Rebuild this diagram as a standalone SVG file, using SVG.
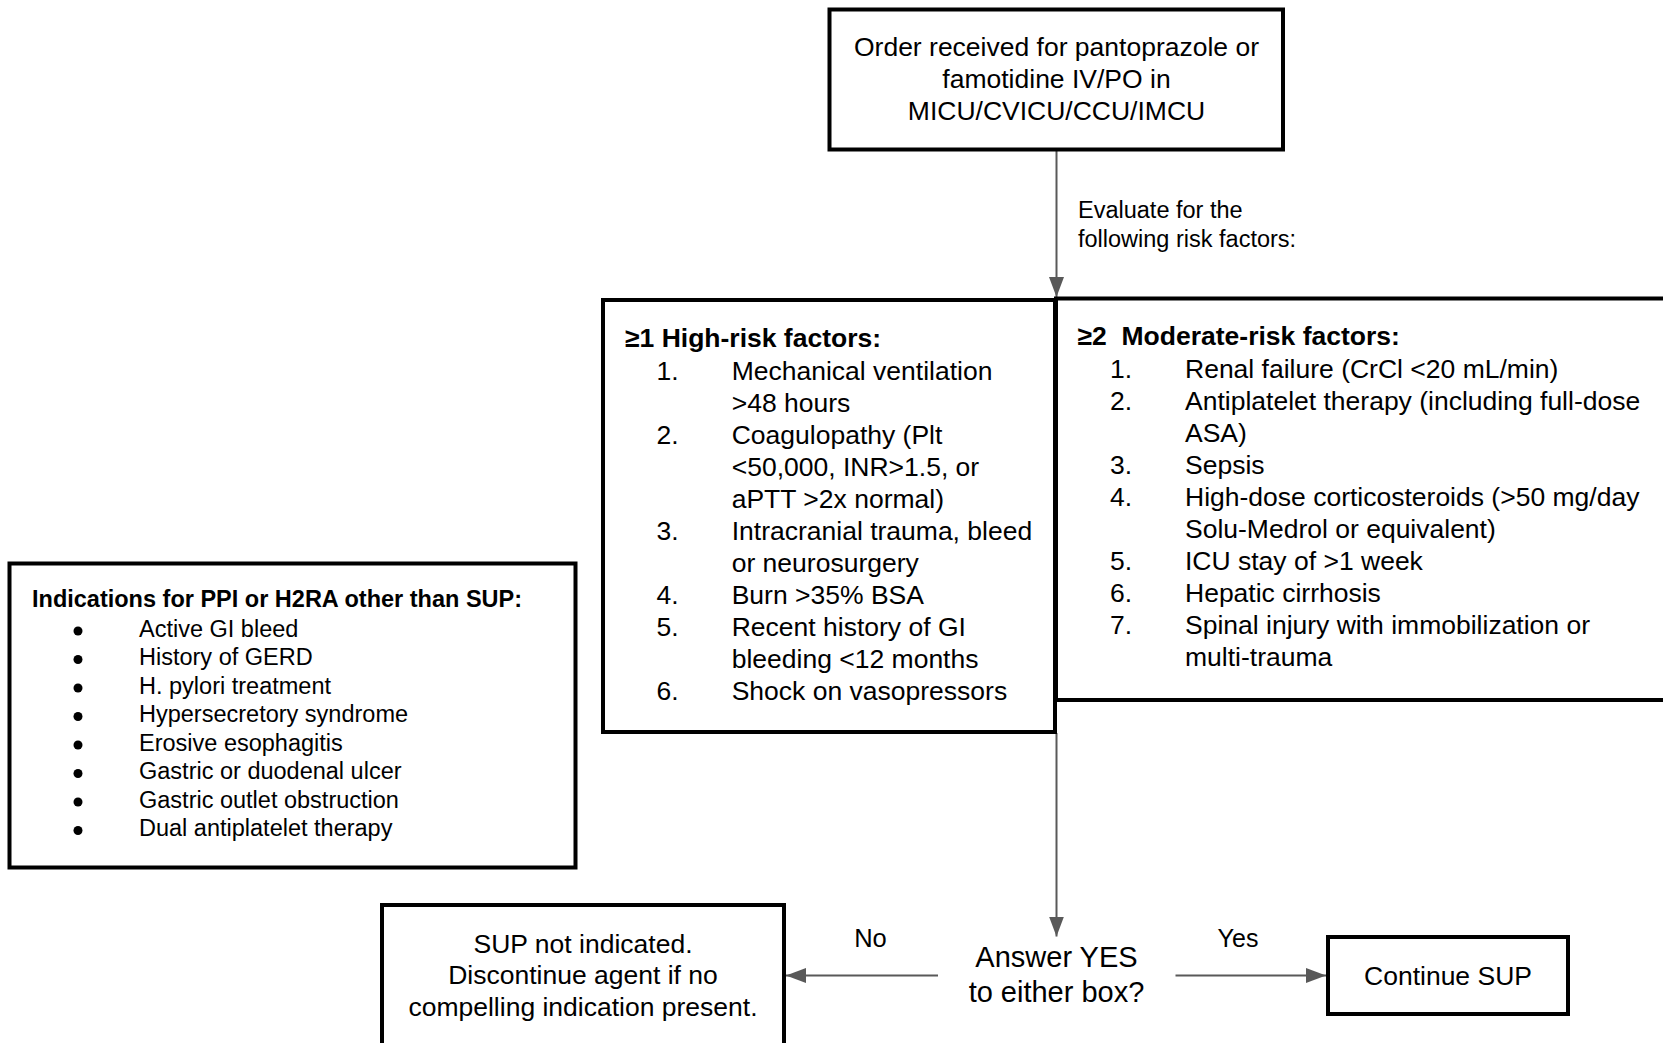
<svg xmlns="http://www.w3.org/2000/svg" width="1663" height="1043" viewBox="0 0 1663 1043">
<style>
.box{fill:#fff;stroke:#000;stroke-width:4}
.t{font-family:"Liberation Sans",Arial,sans-serif;fill:#000}
.m{font-size:26.5px}
.s{font-size:23.5px}
.b{font-weight:bold}
.c{text-anchor:middle}
.con{fill:none;stroke:#595959;stroke-width:2}
</style>
<defs>
<marker id="ah" markerUnits="userSpaceOnUse" markerWidth="20" markerHeight="15" refX="20" refY="7.5" orient="auto">
<path d="M0,0 L20,7.5 L0,15 z" fill="#595959"/>
</marker>
</defs>
<rect width="1663" height="1043" fill="#fff"/>

<g id="connectors">
<path class="con" d="M1056.5,150 V297" marker-end="url(#ah)"/>
<path class="con" d="M1056.5,733 V936.5" marker-end="url(#ah)"/>
<path class="con" d="M938,975.5 H786" marker-end="url(#ah)"/>
<path class="con" d="M1175.5,975.5 H1326" marker-end="url(#ah)"/>
<text class="t" x="1078" y="218" font-size="23.5">Evaluate for the</text>
<text class="t" x="1078" y="246.5" font-size="23.5">following risk factors:</text>
<text class="t c" x="870.5" y="946.5" font-size="25.5">No</text>
<text class="t c" x="1238" y="946.5" font-size="25">Yes</text>
</g>

<g id="order">
<rect class="box" x="829.5" y="9.5" width="453.5" height="140"/>
<text class="t m c" x="1056.5" y="56">Order received for pantoprazole or</text>
<text class="t m c" x="1056.5" y="88">famotidine IV/PO in</text>
<text class="t m c" x="1056.5" y="120">MICU/CVICU/CCU/IMCU</text>
</g>

<g id="moderate">
<rect class="box" x="1056" y="298.5" width="700" height="401.5"/>
<text class="t m b" x="1077.5" y="345">≥2&#160; Moderate-risk factors:</text>
<g class="t m">
<text x="1110" y="377.7">1.</text><text x="1185" y="377.7">Renal failure (CrCl &lt;20 mL/min)</text>
<text x="1110" y="409.8">2.</text><text x="1185" y="409.8">Antiplatelet therapy (including full-dose</text>
<text x="1185" y="441.9">ASA)</text>
<text x="1110" y="474">3.</text><text x="1185" y="474">Sepsis</text>
<text x="1110" y="506">4.</text><text x="1185" y="506">High-dose corticosteroids (&gt;50 mg/day</text>
<text x="1185" y="538.1">Solu-Medrol or equivalent)</text>
<text x="1110" y="570.2">5.</text><text x="1185" y="570.2">ICU stay of &gt;1 week</text>
<text x="1110" y="602.3">6.</text><text x="1185" y="602.3">Hepatic cirrhosis</text>
<text x="1110" y="634.3">7.</text><text x="1185" y="634.3">Spinal injury with immobilization or</text>
<text x="1185" y="666.4">multi-trauma</text>
</g>
</g>

<g id="high">
<rect class="box" x="603" y="300" width="452" height="432"/>
<text class="t m b" x="625" y="346.5">≥1 High-risk factors:</text>
<g class="t m">
<text x="656.5" y="380">1.</text><text x="731.7" y="380">Mechanical ventilation</text>
<text x="731.7" y="412">&gt;48 hours</text>
<text x="656.5" y="444">2.</text><text x="731.7" y="444">Coagulopathy (Plt</text>
<text x="731.7" y="476">&lt;50,000, INR&gt;1.5, or</text>
<text x="731.7" y="508">aPTT &gt;2x normal)</text>
<text x="656.5" y="540">3.</text><text x="731.7" y="540">Intracranial trauma, bleed</text>
<text x="731.7" y="572">or neurosurgery</text>
<text x="656.5" y="604">4.</text><text x="731.7" y="604">Burn &gt;35% BSA</text>
<text x="656.5" y="636">5.</text><text x="731.7" y="636">Recent history of GI</text>
<text x="731.7" y="668">bleeding &lt;12 months</text>
<text x="656.5" y="700">6.</text><text x="731.7" y="700">Shock on vasopressors</text>
</g>
</g>

<g id="indications">
<rect class="box" x="9.5" y="563.5" width="566" height="304"/>
<text class="t s b" x="32" y="606.5">Indications for PPI or H2RA other than SUP:</text>
<g fill="#000">
<circle cx="78" cy="631" r="4.5"/>
<circle cx="78" cy="659.5" r="4.5"/>
<circle cx="78" cy="688" r="4.5"/>
<circle cx="78" cy="716.5" r="4.5"/>
<circle cx="78" cy="745" r="4.5"/>
<circle cx="78" cy="773.5" r="4.5"/>
<circle cx="78" cy="802" r="4.5"/>
<circle cx="78" cy="830.5" r="4.5"/>
</g>
<g class="t s">
<text x="139" y="636.7">Active GI bleed</text>
<text x="139" y="665.2">History of GERD</text>
<text x="139" y="693.7">H. pylori treatment</text>
<text x="139" y="722.2">Hypersecretory syndrome</text>
<text x="139" y="750.7">Erosive esophagitis</text>
<text x="139" y="779.2">Gastric or duodenal ulcer</text>
<text x="139" y="807.7">Gastric outlet obstruction</text>
<text x="139" y="836.2">Dual antiplatelet therapy</text>
</g>
</g>

<g id="question">
<text class="t c" x="1056.5" y="966.7" font-size="29">Answer YES</text>
<text class="t c" x="1056.5" y="1001.7" font-size="29">to either box?</text>
</g>

<g id="not-indicated">
<rect class="box" x="382" y="905" width="402" height="200"/>
<text class="t m c" x="583" y="952.5">SUP not indicated.</text>
<text class="t m c" x="583" y="984">Discontinue agent if no</text>
<text class="t m c" x="583" y="1015.5">compelling indication present.</text>
</g>

<g id="continue">
<rect class="box" x="1328" y="937" width="240" height="77"/>
<text class="t m c" x="1448" y="985">Continue SUP</text>
</g>
</svg>
